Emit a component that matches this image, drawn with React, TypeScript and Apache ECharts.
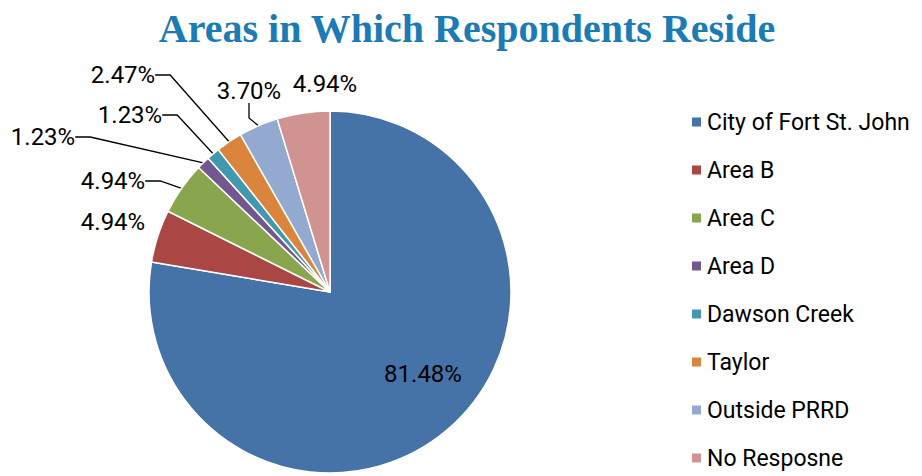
import React, { useEffect, useRef } from "react";
import * as echarts from "echarts";

const categories = [
  "City of Fort St. John",
  "Area B",
  "Area C",
  "Area D",
  "Dawson Creek",
  "Taylor",
  "Outside PRRD",
  "No Resposne",
];
const values = [81.48, 4.94, 4.94, 1.23, 1.23, 2.47, 3.7, 4.94];
const colors = ["#4572A7", "#AA4643", "#89A54E", "#71588F", "#4198AF", "#DB843D", "#93A9CF", "#D19392"];
const showLine = [false, false, true, true, true, true, true, false];
// label centres (layout styling)
const labelPos: [number, number][] = [
  [423, 374],
  [113, 222],
  [113, 181],
  [43, 137],
  [130, 115],
  [123, 75],
  [249, 91],
  [325, 84],
];

export default function App() {
  const ref = useRef<HTMLDivElement>(null);
  useEffect(() => {
    document.body.style.margin = "0";
    const chart = echarts.init(ref.current!, undefined, { renderer: "svg" });
    const font = "Roboto, 'Noto Sans', sans-serif";
    chart.setOption({
      animation: false,
      backgroundColor: "#fff",
      title: {
        text: "Areas in Which Respondents Reside",
        left: 462,
        textAlign: "center",
        top: 3,
        textStyle: {
          fontFamily: "'Liberation Serif', serif",
          fontWeight: "bold",
          fontSize: 40,
          color: "#1B7BB5",
        },
      },
      legend: {
        orient: "vertical",
        left: 690,
        top: 110,
        padding: 0,
        itemWidth: 11,
        itemHeight: 11,
        itemGap: 24,
        icon: "rect",
        textStyle: { fontFamily: font, fontSize: 23, lineHeight: 24, color: "#000" },
        data: categories,
      },
      series: [
        {
          type: "pie",
          center: [330, 292],
          radius: 181,
          startAngle: 90,
          clockwise: true,
          avoidLabelOverlap: false,
          itemStyle: { borderColor: "#fff", borderWidth: 1.5 },
          label: {
            show: true,
            position: "outside",
            fontFamily: font,
            fontSize: 24,
            color: "#000",
            formatter: (p: any) => p.value.toFixed(2) + "%",
          },
          labelLine: {
            show: true,
            length: 10,
            length2: 15,
            lineStyle: { color: "#000", width: 1.3 },
          },
          labelLayout: (p: any) => ({
            x: labelPos[p.dataIndex][0],
            y: labelPos[p.dataIndex][1],
            align: "center",
            verticalAlign: "middle",
          }),
          data: categories.map((name, i) => ({
            name,
            value: values[i],
            itemStyle: { color: colors[i] },
            label: i === 0 ? { position: "inside" } : undefined,
            labelLine: { show: showLine[i] },
          })),
        },
      ],
    });
    return () => chart.dispose();
  }, []);
  return <div ref={ref} style={{ width: 922, height: 476 }} />;
}
